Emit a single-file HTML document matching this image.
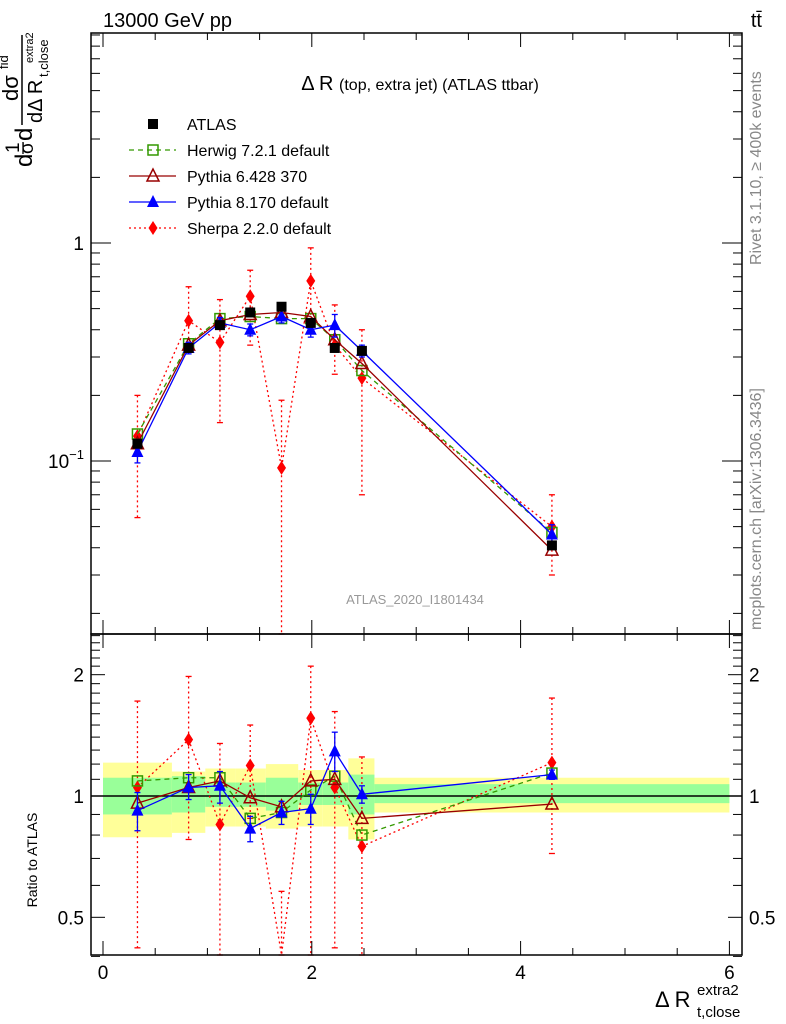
<!DOCTYPE html>
<html><head><meta charset="utf-8"><style>
body{margin:0;background:#fff}
svg{display:block;font-family:"Liberation Sans",sans-serif}
</style></head><body>
<svg id="c" width="786" height="1024" viewBox="0 0 786 1024">
<g id="bands"></g>
<g id="marks"></g>
<g id="axes"></g>
<text x="103" y="27" font-size="20">13000 GeV pp</text>
<text x="762" y="27" font-size="20" text-anchor="end">tt̄</text>
<text x="420" y="90" font-size="20" text-anchor="middle">Δ R <tspan font-size="16">(top, extra jet) (ATLAS ttbar)</tspan></text>
<text x="415" y="604" font-size="13" fill="#999" text-anchor="middle">ATLAS_2020_I1801434</text>
<text transform="translate(761,265) rotate(-90)" font-size="16" fill="#888">Rivet 3.1.10, ≥ 400k events</text>
<text transform="translate(761,630) rotate(-90)" font-size="16" fill="#888">mcplots.cern.ch [arXiv:1306.3436]</text>
<g transform="translate(22,167) rotate(-90)">
<text x="0" y="10" font-size="24">d</text>
<text x="14" y="-3" font-size="19">1</text>
<text x="13" y="11" font-size="19">σ</text>
<line x1="13" y1="1" x2="25" y2="1" stroke="#000" stroke-width="1.3"/>
<text x="26" y="10" font-size="24">d</text>
<line x1="42" y1="0" x2="132" y2="0" stroke="#000" stroke-width="1.5"/>
<text x="66" y="-4" font-size="22">dσ</text>
<text x="98" y="-14" font-size="13">fid</text>
<text x="44" y="20" font-size="20">dΔ R</text>
<text x="90" y="26" font-size="13">t,close</text>
<text x="104" y="11" font-size="11">extra2</text>
</g>
<text transform="translate(37,860) rotate(-90)" font-size="14" text-anchor="middle">Ratio to ATLAS</text>
<text x="655" y="1007" font-size="22">Δ R</text>
<text x="697" y="995" font-size="15">extra2</text>
<text x="697" y="1017" font-size="15">t,close</text>
<g id="legend"></g>
</svg>
<script>
const xs=[0.33,0.82,1.12,1.41,1.71,1.99,2.22,2.48,4.3];
const atlas=[0.12,0.33,0.42,0.48,0.51,0.43,0.33,0.32,0.041];
const herwig=[0.133,0.345,0.45,0.46,0.45,0.45,0.36,0.26,0.047];
const py6=[0.12,0.34,0.44,0.47,0.48,0.46,0.36,0.28,0.039];
const py8=[0.11,0.33,0.43,0.40,0.46,0.40,0.42,0.32,0.046];
const py8Err=[0.012,0.02,0.025,0.025,0.03,0.03,0.05,0.02,0.005];
const sherpa=[0.13,0.44,0.35,0.57,0.093,0.67,0.34,0.24,0.05];
const sherpaLo=[0.055,0.32,0.15,0.34,0.005,0.45,0.25,0.07,0.03];
const sherpaHi=[0.20,0.63,0.55,0.75,0.19,0.95,0.52,0.40,0.07];
const rHerwig=[1.09,1.11,1.11,0.88,0.91,1.035,1.12,0.80,1.14];
const rPy6=[0.96,1.05,1.09,0.99,0.94,1.09,1.10,0.88,0.955];
const rPy8=[0.92,1.05,1.06,0.83,0.91,0.93,1.29,1.01,1.13];
const rPy8Lo=[0.82,0.98,0.96,0.77,0.85,0.85,1.15,0.96,1.10];
const rPy8Hi=[1.02,1.13,1.15,0.89,0.97,1.01,1.44,1.06,1.16];
const rSherpa=[1.05,1.38,0.85,1.19,0.31,1.56,1.05,0.75,1.21];
const rSherpaLo=[0.42,0.78,0.35,0.88,0.01,0.30,0.42,0.22,0.72];
const rSherpaHi=[1.72,1.98,1.35,1.50,0.58,2.10,1.62,1.25,1.75];
const binEdges=[0,0.66,0.98,1.27,1.56,1.87,2.1,2.35,2.6,6];
const yelLo=[0.79,0.81,0.84,0.84,0.83,0.84,0.84,0.78,0.91];
const yelHi=[1.21,1.15,1.17,1.17,1.20,1.16,1.16,1.24,1.11];
const grnLo=[0.90,0.91,0.94,0.94,0.92,0.95,0.95,0.90,0.96];
const grnHi=[1.11,1.12,1.08,1.08,1.11,1.08,1.08,1.13,1.07];
const xTicks=[0,2,4,6];

const NS="http://www.w3.org/2000/svg";
const X=v=>103+104.4*v;
const Y=v=>243-218*Math.log10(v);
const R=v=>796-403*Math.log10(Math.max(v,0.01));
const L=91,Rt=742,T=33,MB=634,B=955;
function mk(p,tag,a){const e=document.createElementNS(NS,tag);for(const k in a)e.setAttribute(k,a[k]);p.appendChild(e);return e;}
const bands=document.getElementById('bands'),marks=document.getElementById('marks'),axes=document.getElementById('axes'),leg=document.getElementById('legend');

for(let i=0;i<yelLo.length;i++){
 const x1=X(binEdges[i]),x2=X(binEdges[i+1]);
 const yb=mk(bands,'rect',{x:x1,y:R(yelHi[i]),width:x2-x1,height:R(yelLo[i])-R(yelHi[i]),fill:'#ffff99'});
 
 
 const gb=mk(bands,'rect',{x:x1,y:R(grnHi[i]),width:x2-x1,height:R(grnLo[i])-R(grnHi[i]),fill:'#99ff99'});
 
 
}
mk(bands,'line',{x1:L,x2:Rt,y1:R(1),y2:R(1),stroke:'#000','stroke-width':1.5});

function clipY(y,top,bot){return Math.min(Math.max(y,top),bot);}
function marker(g,type,cx,cy,color){
 if(type==='sq')mk(g,'rect',{x:cx-5,y:cy-5,width:10,height:10,fill:'#000'});
 else if(type==='osq')mk(g,'rect',{x:cx-5,y:cy-5,width:10,height:10,fill:'none',stroke:color,'stroke-width':1.5});
 else if(type==='otri')mk(g,'polygon',{points:`${cx},${cy-7} ${cx-6},${cy+5} ${cx+6},${cy+5}`,fill:'none',stroke:color,'stroke-width':1.5});
 else if(type==='tri')mk(g,'polygon',{points:`${cx},${cy-7} ${cx-6},${cy+5} ${cx+6},${cy+5}`,fill:color});
 else if(type==='dia')mk(g,'polygon',{points:`${cx},${cy-7} ${cx-4.5},${cy} ${cx},${cy+7} ${cx+4.5},${cy}`,fill:color});
}
function series(name,vals,lo,hi,F,top,bot,color,dash,type,withLine){
 const g=mk(marks,'g',{});
 
 
 if(withLine){
  const pts=xs.map((x,i)=>X(x)+','+clipY(F(vals[i]),top,bot)).join(' ');
  mk(g,'polyline',{points:pts,fill:'none',stroke:color,'stroke-width':1.3,'stroke-dasharray':dash});
 }
 if(lo){xs.forEach((x,i)=>{
  const y1=clipY(F(hi[i]),top,bot),y2=clipY(F(lo[i]),top,bot);
  mk(g,'line',{x1:X(x),x2:X(x),y1:y1,y2:y2,stroke:color,'stroke-width':1.3,'stroke-dasharray':dash});
  mk(g,'line',{x1:X(x)-3,x2:X(x)+3,y1:y1,y2:y1,stroke:color,'stroke-width':1.3});
  mk(g,'line',{x1:X(x)-3,x2:X(x)+3,y1:y2,y2:y2,stroke:color,'stroke-width':1.3});
 });}
 xs.forEach((x,i)=>{const y=F(vals[i]);if(y>=top&&y<=bot)marker(g,type,X(x),y,color);});
}
const p8lo=py8.map((v,i)=>v-py8Err[i]),p8hi=py8.map((v,i)=>v+py8Err[i]);
series('sherpa-series',sherpa,sherpaLo,sherpaHi,Y,T,MB,'#ff0000','2,3','dia',true);
series('herwig-series',herwig,null,null,Y,T,MB,'#339900','5,4','osq',true);
series('pythia6-series',py6,null,null,Y,T,MB,'#990000','','otri',true);
series('pythia8-series',py8,p8lo,p8hi,Y,T,MB,'#0000ff','','tri',true);
series('atlas-data',atlas,null,null,Y,T,MB,'#000','','sq',false);
series('sherpa-ratio',rSherpa,rSherpaLo,rSherpaHi,R,MB,B,'#ff0000','2,3','dia',true);
series('herwig-ratio',rHerwig,null,null,R,MB,B,'#339900','5,4','osq',true);
series('pythia6-ratio',rPy6,null,null,R,MB,B,'#990000','','otri',true);
series('pythia8-ratio',rPy8,rPy8Lo,rPy8Hi,R,MB,B,'#0000ff','','tri',true);

mk(axes,'rect',{x:L,y:T,width:Rt-L,height:MB-T,fill:'none',stroke:'#000','stroke-width':1.5});
mk(axes,'rect',{x:L,y:MB,width:Rt-L,height:B-MB,fill:'none',stroke:'#000','stroke-width':1.5});
for(let d=-2;d<=0;d++)for(let m=1;m<=9;m++){
 const v=m*Math.pow(10,d),y=Y(v);if(y<T||y>MB)continue;
 const len=m===1?20:9;
 mk(axes,'line',{x1:L,x2:L+len,y1:y,y2:y,stroke:'#000'});
 mk(axes,'line',{x1:Rt,x2:Rt-len,y1:y,y2:y,stroke:'#000'});
}
const t1=mk(axes,'text',{x:84,y:Y(1)+7,'font-size':19,'text-anchor':'end'});t1.textContent='1';


const t2=mk(axes,'text',{x:84,y:Y(0.1)+7,'font-size':19,'text-anchor':'end'});t2.innerHTML='10<tspan font-size="13" dy="-9">−1</tspan>';


[0.4,0.5,0.6,0.7,0.8,0.9,1,1.1,1.2,1.3,1.4,1.5,1.6,1.7,1.8,1.9,2,2.1,2.2,2.3,2.4,2.5].forEach(v=>{const y=R(v);if(y<MB)return;const len=(v===0.5||v===1||v===2)?14:9;
 mk(axes,'line',{x1:L,x2:L+len,y1:y,y2:y,stroke:'#000'});mk(axes,'line',{x1:Rt,x2:Rt-len,y1:y,y2:y,stroke:'#000'});});
[[2,'2'],[1,'1'],[0.5,'0.5']].forEach(([v,s])=>{
 const a=mk(axes,'text',{x:84,y:R(v)+7,'font-size':19,'text-anchor':'end'});a.textContent=s;
 
 
 const b=mk(axes,'text',{x:749,y:R(v)+7,'font-size':19});b.textContent=s;
 
 
});
for(let v=0;v<=6.5;v+=0.5){const x=X(v);if(x>Rt)continue;const len=(v%2===0)?14:7;
 [T,MB].forEach(y0=>mk(axes,'line',{x1:x,x2:x,y1:y0,y2:y0+len,stroke:'#000'}));
 [MB,B].forEach(y0=>mk(axes,'line',{x1:x,x2:x,y1:y0,y2:y0-len,stroke:'#000'}));}
xTicks.forEach(v=>{const t=mk(axes,'text',{x:X(v),y:979,'font-size':19,'text-anchor':'middle'});t.textContent=String(v);
 
 });
const entries=[['ATLAS','#000','','sq'],['Herwig 7.2.1 default','#339900','5,4','osq'],['Pythia 6.428 370','#990000','','otri'],['Pythia 8.170 default','#0000ff','','tri'],['Sherpa 2.2.0 default','#ff0000','2,3','dia']];
entries.forEach((e,i)=>{const y=124+26*i;const g=mk(leg,'g',{});
 
 
 if(i>0)mk(g,'line',{x1:129,x2:176,y1:y,y2:y,stroke:e[1],'stroke-width':1.3,'stroke-dasharray':e[2]});
 marker(g,e[3],153,y,e[1]);
 const t=mk(g,'text',{x:187,y:y+6,'font-size':16});t.textContent=e[0];});
</script>
</body></html>
